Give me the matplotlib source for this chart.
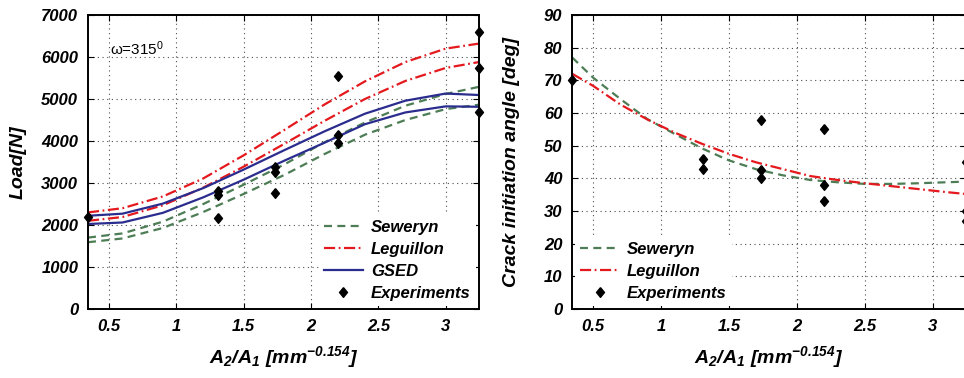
import matplotlib.pyplot as plt

plt.rcParams['font.family'] = ['Liberation Sans', 'DejaVu Sans']
plt.rcParams['mathtext.fontset'] = 'custom'
plt.rcParams['mathtext.rm'] = 'Liberation Sans:bold:italic'
plt.rcParams['mathtext.it'] = 'Liberation Sans:bold:italic'
plt.rcParams['mathtext.bf'] = 'Liberation Sans:bold:italic'

# --- data ---
# left panel: load vs A2/A1
x_fit = [0.344, 0.6, 0.9, 1.2, 1.5, 1.8, 2.1, 2.4, 2.7, 3.0, 3.247]
sew_hi = [1700, 1800, 2080, 2500, 2960, 3440, 3970, 4440, 4840, 5120, 5290]
sew_lo = [1590, 1680, 1930, 2310, 2740, 3190, 3690, 4150, 4500, 4760, 4864]
leg_hi = [2300, 2400, 2680, 3110, 3660, 4260, 4870, 5420, 5880, 6200, 6320]
leg_lo = [2100, 2190, 2470, 2890, 3390, 3930, 4480, 5000, 5430, 5740, 5880]
gsed_hi = [2220, 2270, 2510, 2880, 3320, 3780, 4230, 4650, 4960, 5130, 5095]
gsed_lo = [2024, 2060, 2290, 2660, 3080, 3530, 3960, 4400, 4680, 4825, 4815]

x_exp = [0.344, 1.309, 1.309, 1.309, 1.736, 1.736, 1.736, 2.201, 2.201, 2.201, 3.247, 3.247, 3.247]
load_exp = [2200, 2810, 2714, 2160, 3388, 3270, 2754, 5548, 4143, 3960, 6595, 5745, 4698]

# right panel: crack initiation angle vs A2/A1
x_ang = [0.345, 0.5, 0.7, 0.9, 1.1, 1.3, 1.5, 1.7, 1.9, 2.1, 2.3, 2.5, 2.7, 2.9, 3.1, 3.247]
sew_ang = [77, 70.8, 64.3, 58.1, 53.6, 49.2, 45.5, 42.8, 40.9, 39.5, 38.8, 38.3, 38.3, 38.5, 38.8, 39.0]
leg_ang = [72, 68.3, 62.6, 58.0, 54.0, 50.6, 47.5, 44.9, 42.8, 40.7, 39.5, 38.5, 37.6, 36.7, 35.8, 35.2]

x_exp2 = [0.345, 1.307, 1.307, 1.736, 1.736, 1.736, 2.2, 2.2, 2.2, 3.247, 3.247, 3.247]
ang_exp = [70, 46, 43, 58, 42.5, 40, 55, 38, 33, 45, 30, 27]

xticks = [0.5, 1, 1.5, 2, 2.5, 3]
xticklabels = ['0.5', '1', '1.5', '2', '2.5', '3']

green = '#4d7d55'
red = '#e4191e'
blue = '#2b2d8e'
dashdot = (0, (5, 1.6, 0.8, 1.6))
dashed = (0, (3.6, 2.4))
# matlab-like diamond, a bit wider than matplotlib's thin one
diamond = [(0, 1), (0.82, 0), (0, -1), (-0.82, 0), (0, 1)]

fig = plt.figure(figsize=(9.64, 3.78), dpi=100)
ax1 = fig.add_axes([0.0913, 0.1825, 0.4056, 0.7778])
ax2 = fig.add_axes([0.5934, 0.1825, 0.4087, 0.7778])

tick_font = dict(fontsize=12, fontweight='bold', fontstyle='italic')
label_font = dict(fontsize=14, fontweight='bold', fontstyle='italic')
leg_kw = dict(prop=dict(size=12, weight='bold', style='italic'),
              frameon=True, fancybox=False, edgecolor='none', facecolor='white',
              framealpha=1, handlelength=2.3, handletextpad=0.5, labelspacing=0.42,
              borderaxespad=0.2, borderpad=0.3)


def style_axes(ax):
    ax.grid(True, linestyle=(0, (1, 3.2)), color='0.3', linewidth=0.8)
    ax.set_axisbelow(True)
    ax.tick_params(direction='in', top=True, right=True, length=4, width=0.8, pad=7)
    ax.set_xticks(xticks)
    ax.set_xticklabels(xticklabels, **tick_font)
    for s in ax.spines.values():
        s.set_linewidth(1.4)
    ax.set_xlim(0.344, 3.247)
    ax.set_xlabel(r'$\mathregular{A_2/A_1\ [mm^{-0.154}]}$', **label_font)
    ax.xaxis.set_label_coords(0.5, -0.12)


# left
ax1.plot(x_fit, sew_hi, color=green, lw=1.6, ls=dashed, label='Seweryn')
ax1.plot(x_fit, sew_lo, color=green, lw=1.6, ls=dashed)
ax1.plot(x_fit, leg_hi, color=red, lw=1.6, ls=dashdot, label='Leguillon')
ax1.plot(x_fit, leg_lo, color=red, lw=1.6, ls=dashdot)
ax1.plot(x_fit, gsed_hi, color=blue, lw=1.6, label='GSED')
ax1.plot(x_fit, gsed_lo, color=blue, lw=1.6)
ax1.plot(x_exp, load_exp, marker=diamond, color='black', ms=7, ls='none',
         clip_on=False, label='Experiments')
style_axes(ax1)
ax1.set_ylim(0, 7000)
ax1.set_yticks(range(0, 7001, 1000))
ax1.set_yticklabels([str(v) for v in range(0, 7001, 1000)], **tick_font)
ax1.set_ylabel('Load[N]', **label_font)
ax1.yaxis.set_label_coords(-0.158, 0.5)
ax1.text(0.056, 0.884, 'ω=315$\\mathregular{^0}$', transform=ax1.transAxes,
         fontsize=11, ha='left', va='center')
ax1.legend(loc='lower right', **leg_kw)

# right
ax2.plot(x_ang, sew_ang, color=green, lw=1.6, ls=dashed, label='Seweryn')
ax2.plot(x_ang, leg_ang, color=red, lw=1.6, ls=dashdot, label='Leguillon')
ax2.plot(x_exp2, ang_exp, marker=diamond, color='black', ms=7, ls='none',
         clip_on=False, label='Experiments')
style_axes(ax2)
ax2.set_ylim(0, 90)
ax2.set_yticks(range(0, 91, 10))
ax2.set_yticklabels([str(v) for v in range(0, 91, 10)], **tick_font)
ax2.set_ylabel('Crack initiation angle [deg]', **label_font)
ax2.yaxis.set_label_coords(-0.132, 0.5)
ax2.legend(loc='lower left', **leg_kw)

fig.savefig('out.png', dpi=100)
